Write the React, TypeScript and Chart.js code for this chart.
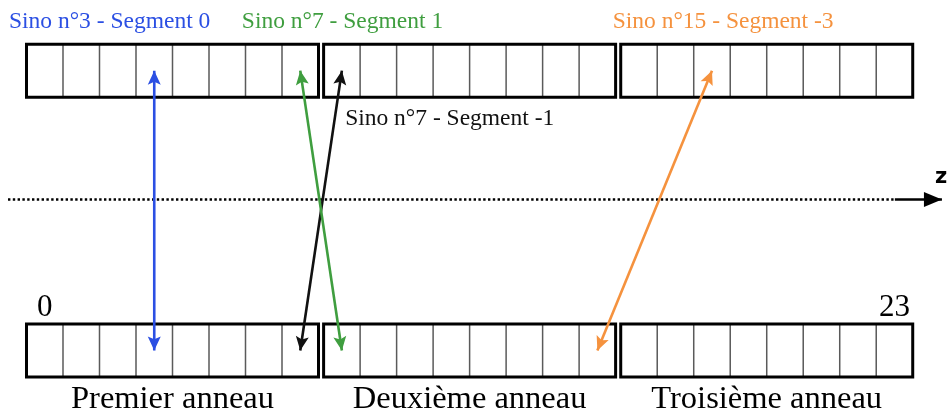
import React, { useEffect, useRef } from "react";
import { Chart, registerables } from "chart.js";

Chart.register(...registerables);

// ---------- data ----------
const ringNames = ["Premier anneau", "Deuxième anneau", "Troisième anneau"];
const crystalsPerRing = 8;
const endIndexLabels = ["0", "23"];
const endIndexCrystals = [0, 23];
const sinoLabels = [
  "Sino n°3 - Segment 0",
  "Sino n°7 - Segment 1",
  "Sino n°7 - Segment -1",
  "Sino n°15 - Segment -3",
];
const sinoColors = ["#2b4fe3", "#3f9e3f", "#111111", "#f5923e"];
const sinoTopCrystal = [3, 7, 8, 18];
const sinoBottomCrystal = [3, 8, 7, 15];
const axisName = "z";

// ---------- layout (geometry only) ----------
const RING_GAP = 0.14;
const BOTTOM_ROW = 0;
const TOP_ROW = 5.28;
const ROW_H = 1;
const Z_LEVEL = 3.35;
const X_MIN = -0.726;
const X_MAX = 25.219;
const Y_MIN = -0.698;
const Y_MAX = 7.113;
const sinoLabelAnchor = [
  [-0.48, 6.585],
  [5.9, 6.585],
  [8.73, 4.755],
  [16.06, 6.585],
];
const RING_LABEL_Y = -0.585;
const END_LABEL_Y = 1.15;
const Z_START = -0.507;
const Z_DOTTED_END = 23.79;
const Z_TIP = 25.08;

const ringStart = (r: number) => r * (crystalsPerRing + RING_GAP);
const crystalX = (i: number) =>
  ringStart(Math.floor(i / crystalsPerRing)) + (i % crystalsPerRing) + 0.5;

const SERIF = '"Liberation Serif", "Times New Roman", serif';

function drawStealth(ctx: CanvasRenderingContext2D, tx: number, ty: number, fx: number, fy: number, color: string, L: number, W: number, notch: number) {
  const dx = tx - fx;
  const dy = ty - fy;
  const len = Math.hypot(dx, dy) || 1;
  const ux = dx / len;
  const uy = dy / len;
  const nx = -uy;
  const ny = ux;
  ctx.save();
  ctx.fillStyle = color;
  ctx.beginPath();
  ctx.moveTo(tx, ty);
  ctx.lineTo(tx - ux * L + nx * W / 2, ty - uy * L + ny * W / 2);
  ctx.lineTo(tx - ux * L * notch, ty - uy * L * notch);
  ctx.lineTo(tx - ux * L - nx * W / 2, ty - uy * L - ny * W / 2);
  ctx.closePath();
  ctx.fill();
  ctx.restore();
}

const decorPlugin = {
  id: "decor",
  afterDatasetsDraw(chart: any) {
    const ctx: CanvasRenderingContext2D = chart.ctx;
    const xs = chart.scales.x;
    const ys = chart.scales.y;
    // arrow heads
    chart.data.datasets.forEach((ds: any, di: number) => {
      if (!ds.arrow) return;
      const meta = chart.getDatasetMeta(di);
      const pts = meta.data;
      const a = pts[0];
      const b = pts[pts.length - 1];
      if (ds.arrow === "both") {
        drawStealth(ctx, a.x, a.y, b.x, b.y, ds.borderColor, 14, 13, 0.8);
        drawStealth(ctx, b.x, b.y, a.x, a.y, ds.borderColor, 14, 13, 0.8);
      } else if (ds.arrow === "end") {
        drawStealth(ctx, b.x, b.y, a.x, a.y, ds.borderColor, 18, 15, 1);
      }
    });
    ctx.save();
    ctx.textBaseline = "alphabetic";
    // sino labels
    ctx.font = `23.5px ${SERIF}`;
    ctx.textAlign = "left";
    sinoLabels.forEach((t, i) => {
      ctx.fillStyle = sinoColors[i];
      ctx.fillText(t, xs.getPixelForValue(sinoLabelAnchor[i][0]), ys.getPixelForValue(sinoLabelAnchor[i][1]));
    });
    // ring names
    ctx.font = `32.5px ${SERIF}`;
    ctx.textAlign = "center";
    ctx.fillStyle = "#000";
    ringNames.forEach((t, r) => {
      ctx.fillText(t, xs.getPixelForValue(ringStart(r) + crystalsPerRing / 2), ys.getPixelForValue(RING_LABEL_Y));
    });
    ctx.font = `31px ${SERIF}`;
    endIndexLabels.forEach((t, i) => {
      ctx.fillText(t, xs.getPixelForValue(crystalX(endIndexCrystals[i])), ys.getPixelForValue(END_LABEL_Y));
    });
    // axis name
    ctx.font = `bold 21px "DejaVu Sans", sans-serif`;
    ctx.textAlign = "left";
    ctx.fillText(axisName, xs.getPixelForValue(Z_TIP) - 7, ys.getPixelForValue(Z_LEVEL) - 16);
    ctx.restore();
  },
};

function buildDatasets() {
  const ds: any[] = [];
  const rows = [BOTTOM_ROW, TOP_ROW];
  // cell dividers
  const div: any[] = [];
  rows.forEach((y0) => {
    ringNames.forEach((_, r) => {
      for (let c = 1; c < crystalsPerRing; c++) {
        const x = ringStart(r) + c;
        div.push({ x, y: y0 }, { x, y: y0 + ROW_H }, { x, y: null });
      }
    });
  });
  ds.push({
    data: div,
    borderColor: "#5a5a5a",
    borderWidth: 1.5,
    pointRadius: 0,
    spanGaps: false,
    order: 5,
  });
  // ring boxes
  rows.forEach((y0) => {
    ringNames.forEach((_, r) => {
      const s = ringStart(r);
      const e = s + crystalsPerRing;
      ds.push({
        data: [
          { x: s, y: y0 },
          { x: e, y: y0 },
          { x: e, y: y0 + ROW_H },
          { x: s, y: y0 + ROW_H },
          { x: s, y: y0 },
        ],
        borderColor: "#000",
        borderWidth: 3,
        pointRadius: 0,
        borderJoinStyle: "miter",
        borderCapStyle: "square",
        order: 4,
      });
    });
  });
  // z axis
  ds.push({
    data: [
      { x: Z_START, y: Z_LEVEL },
      { x: Z_DOTTED_END, y: Z_LEVEL },
    ],
    borderColor: "#000",
    borderWidth: 2.5,
    borderDash: [2.4, 2.4],
    pointRadius: 0,
    order: 3,
  });
  ds.push({
    data: [
      { x: Z_DOTTED_END, y: Z_LEVEL },
      { x: Z_TIP, y: Z_LEVEL },
    ],
    borderColor: "#000",
    borderWidth: 2.5,
    pointRadius: 0,
    arrow: "end",
    order: 3,
  });
  // sinogram lines of response
  sinoLabels.forEach((_, i) => {
    ds.push({
      data: [
        { x: crystalX(sinoTopCrystal[i]), y: TOP_ROW + ROW_H / 2 },
        { x: crystalX(sinoBottomCrystal[i]), y: BOTTOM_ROW + ROW_H / 2 },
      ],
      borderColor: sinoColors[i],
      borderWidth: 2.6,
      pointRadius: 0,
      arrow: "both",
      order: 1,
    });
  });
  return ds;
}

export default function App() {
  const ref = useRef<HTMLCanvasElement | null>(null);
  useEffect(() => {
    if (!ref.current) return;
    const chart = new Chart(ref.current, {
      type: "line",
      data: { datasets: buildDatasets() },
      options: {
        responsive: false,
        animation: false,
        devicePixelRatio: 1,
        events: [],
        layout: { padding: 0 },
        elements: { line: { tension: 0 } },
        plugins: { legend: { display: false }, tooltip: { enabled: false } },
        scales: {
          x: { type: "linear", display: false, min: X_MIN, max: X_MAX },
          y: { type: "linear", display: false, min: Y_MIN, max: Y_MAX },
        },
        datasets: { line: { clip: false as any } },
      } as any,
      plugins: [decorPlugin],
    });
    return () => chart.destroy();
  }, []);
  return (
    <div style={{ position: "absolute", left: 0, top: 0, width: 947, height: 414, background: "#fff" }}>
      <canvas ref={ref} width={947} height={414} style={{ display: "block" }} />
    </div>
  );
}
